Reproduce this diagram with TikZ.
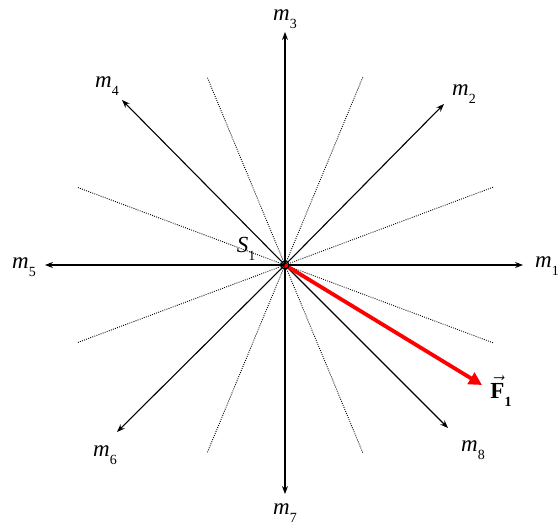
\documentclass[tikz,border=0pt]{standalone}
\usepackage{fontspec}
\setmainfont{Liberation Serif}
\usetikzlibrary{arrows.meta,calc}
\newcommand{\mlab}[1]{\textit{m}\raisebox{-0.35em}{\fontsize{14}{14}\selectfont #1}}
\begin{document}
\begin{tikzpicture}[x=1pt,y=-1pt,
  axis/.style={line width=1.1pt,-{Stealth[length=8pt,width=6pt]}},
  guide/.style={line width=0.9pt,black,dash pattern=on 0.9pt off 1.3pt},
  lbl/.style={font=\fontsize{23}{25}\selectfont, inner sep=0pt},
  force/.style={red,line width=3.8pt,-{Triangle[length=13pt,width=13pt]}}]
\useasboundingbox (0,0) rectangle (560,524);
\coordinate (O) at (285,265);
% dotted guide lines
\foreach \a/\n/\r in {20.5/ga/222,-20.5/gb/222,67.5/gc/203,-67.5/gd/203}{
  \coordinate (\n1) at ($(O)+(\a:\r)$);
  \coordinate (\n2) at ($(O)+(\a+180:\r)$);
  \draw[guide] (\n1) -- (\n2);
}
% axis end points
\coordinate (e1) at (523,265);
\coordinate (e2) at (444,104);
\coordinate (e3) at (285,32);
\coordinate (e4) at (122,100);
\coordinate (e5) at (45,265);
\coordinate (e6) at (117,432);
\coordinate (e7) at (285,494);
\coordinate (e8) at (448,428);
\foreach \i in {1,...,8}{ \draw[axis] (O) -- (e\i); }
% force
\coordinate (F) at (482,385);
\draw[force] (O) -- (F);
% center circle
\node[circle,draw,line width=1.1pt,minimum size=8pt,inner sep=0pt] (c) at (O) {};
% labels
\node[lbl] (l1) at (547,266) {\mlab{1}};
\node[lbl] (l2) at (464,94) {\mlab{2}};
\node[lbl] (l3) at (285,19) {\mlab{3}};
\node[lbl] (l4) at (107,86) {\mlab{4}};
\node[lbl] (l5) at (24,267) {\mlab{5}};
\node[lbl] (l6) at (105,455) {\mlab{6}};
\node[lbl] (l7) at (285,513) {\mlab{7}};
\node[lbl] (l8) at (473,450) {\mlab{8}};
\node[lbl] (s1) at (246,249) {\textit{S}\raisebox{-0.35em}{\fontsize{14}{14}\selectfont 1}};
\node[lbl] (f1) at (501,391) {$\vec{\hbox{\fontsize{23}{25}\selectfont\bfseries F}}$\raisebox{-0.35em}{\fontsize{14}{14}\selectfont\bfseries 1}};
\end{tikzpicture}
\end{document}
